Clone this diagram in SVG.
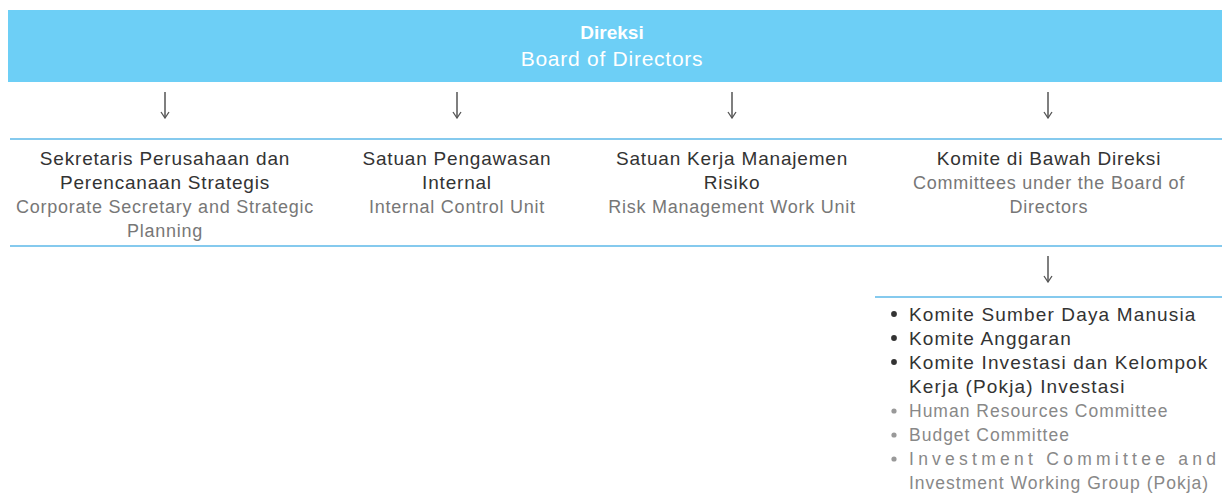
<svg xmlns="http://www.w3.org/2000/svg" width="1224" height="495" viewBox="0 0 1224 495">
  <style>
    .t { font-family: "Liberation Sans", Arial, sans-serif; text-anchor: middle; }
    .id { fill: #333333; font-size: 19px; letter-spacing: 0.8px; }
    .en { fill: #777777; font-size: 18px; letter-spacing: 0.75px; }
    .li { font-family: "Liberation Sans", Arial, sans-serif; }
    .rule { stroke: #5cb8e8; stroke-width: 1.5; }
    .conn { stroke: #555555; stroke-width: 1.5; fill: none; }
  </style>
  <defs>
    <marker id="arr" viewBox="0 0 10 10" refX="9" refY="5" markerWidth="10" markerHeight="10" markerUnits="userSpaceOnUse" orient="auto">
      <path d="M3 1 L9 5 L3 9" fill="none" stroke="#555555" stroke-width="1.3"/>
    </marker>
  </defs>

  <rect x="0" y="0" width="1224" height="495" fill="#ffffff"/>

  <g id="board">
    <rect x="8" y="10" width="1214" height="72" fill="#6dcff6"/>
    <text class="t" x="612" y="39" fill="#ffffff" font-size="19" font-weight="bold">Direksi</text>
    <text class="t" x="612" y="66" fill="#ffffff" font-size="21" letter-spacing="0.75">Board of Directors</text>
  </g>

  <g id="connectors">
    <line class="conn" x1="165" y1="92" x2="165" y2="118" marker-end="url(#arr)"/>
    <line class="conn" x1="457" y1="92" x2="457" y2="118" marker-end="url(#arr)"/>
    <line class="conn" x1="732" y1="92" x2="732" y2="118" marker-end="url(#arr)"/>
    <line class="conn" x1="1048" y1="92" x2="1048" y2="118" marker-end="url(#arr)"/>
    <line class="conn" x1="1048" y1="256" x2="1048" y2="282" marker-end="url(#arr)"/>
  </g>

  <g id="rules">
    <line class="rule" x1="10" y1="139" x2="1222" y2="139"/>
    <line class="rule" x1="10" y1="246" x2="1222" y2="246"/>
    <line class="rule" x1="875" y1="297" x2="1222" y2="297"/>
  </g>

  <g id="corsec">
    <text class="t id" x="165" y="165">Sekretaris Perusahaan dan</text>
    <text class="t id" x="165" y="189">Perencanaan Strategis</text>
    <text class="t en" x="165" y="213">Corporate Secretary and Strategic</text>
    <text class="t en" x="165" y="237">Planning</text>
  </g>

  <g id="internal-control">
    <text class="t id" x="457" y="165">Satuan Pengawasan</text>
    <text class="t id" x="457" y="189">Internal</text>
    <text class="t en" x="457" y="213">Internal Control Unit</text>
  </g>

  <g id="risk">
    <text class="t id" x="732" y="165">Satuan Kerja Manajemen</text>
    <text class="t id" x="732" y="189">Risiko</text>
    <text class="t en" x="732" y="213">Risk Management Work Unit</text>
  </g>

  <g id="committees">
    <text class="t id" x="1049" y="165">Komite di Bawah Direksi</text>
    <text class="t en" x="1049" y="189">Committees under the Board of</text>
    <text class="t en" x="1049" y="213">Directors</text>
  </g>

  <g id="committee-list">
    <g fill="#333333">
      <circle cx="894" cy="314" r="2.9"/>
      <circle cx="894" cy="338" r="2.9"/>
      <circle cx="894" cy="362" r="2.9"/>
    </g>
    <g fill="#999999">
      <circle cx="894" cy="411" r="2.6"/>
      <circle cx="894" cy="435" r="2.6"/>
      <circle cx="894" cy="459" r="2.6"/>
    </g>
    <g class="li" fill="#333333" font-size="19" letter-spacing="1.15">
      <text x="909" y="321">Komite Sumber Daya Manusia</text>
      <text x="909" y="345">Komite Anggaran</text>
      <text x="909" y="369">Komite Investasi dan Kelompok</text>
      <text x="909" y="393">Kerja (Pokja) Investasi</text>
    </g>
    <g class="li" fill="#888888" font-size="17.5" letter-spacing="1">
      <text x="909" y="417">Human Resources Committee</text>
      <text x="909" y="441">Budget Committee</text>
      <text x="909" y="465" textLength="308" lengthAdjust="spacing">Investment Committee and</text>
      <text x="909" y="489">Investment Working Group (Pokja)</text>
    </g>
  </g>
</svg>
